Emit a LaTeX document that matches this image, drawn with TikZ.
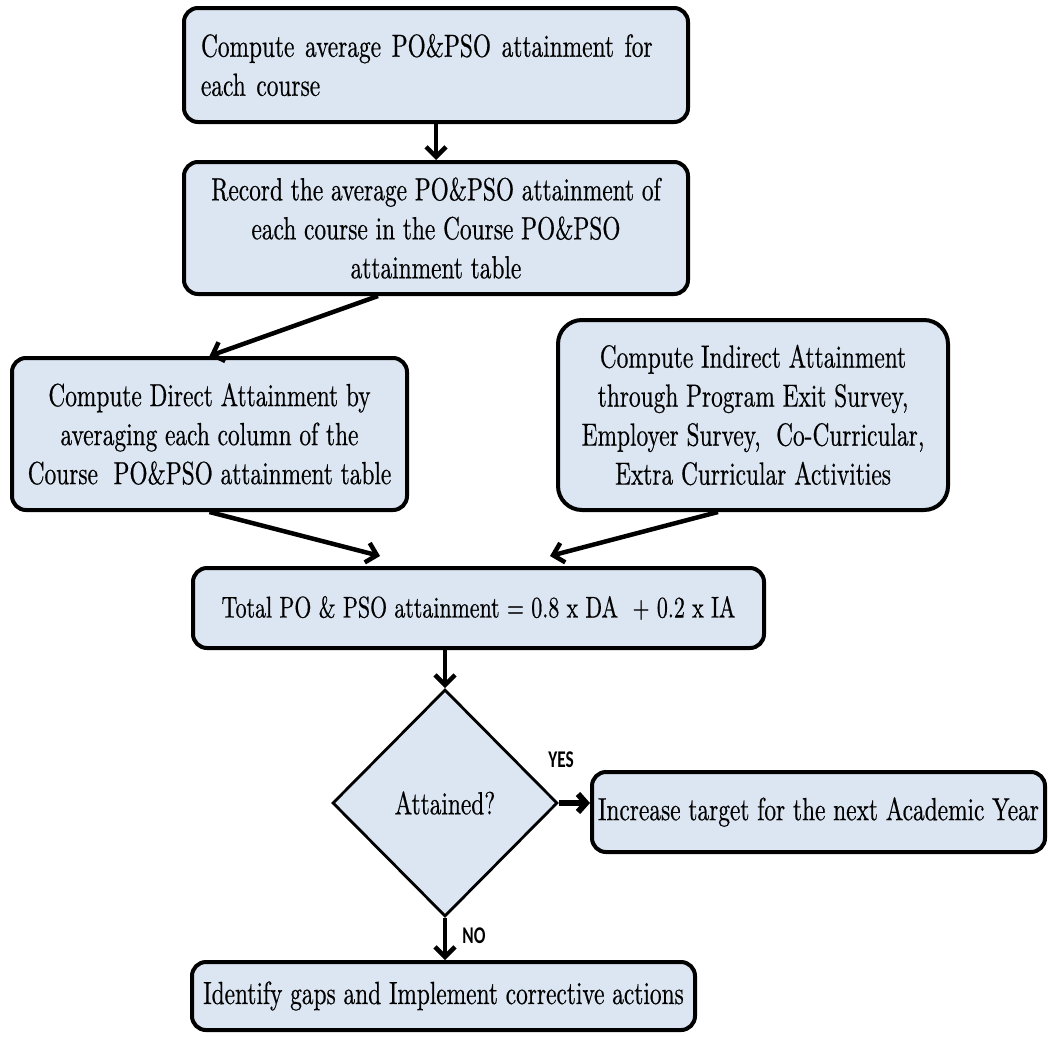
\documentclass[tikz,border=0pt]{standalone}
\usepackage{fontspec}
\setmainfont{lmroman10-regular.otf}[FakeStretch=0.73,FakeBold=0.5]
\newfontfamily\lblfont{Carlito}[FakeStretch=0.72]
\usetikzlibrary{shapes.geometric,arrows.meta,calc}
\definecolor{boxfill}{HTML}{DCE6F2}
\tikzset{
  box/.style={draw=black, line width=4pt, fill=boxfill, rounded corners=14pt,
    inner sep=0pt, align=center, font=\fontsize{32}{39}\selectfont},
  decision/.style={draw=black, line width=2.8pt, fill=boxfill, diamond, inner sep=0pt,
    font=\fontsize{32}{39}\selectfont},
  arr/.style={line width=4.5pt, -{Straight Barb[length=10pt,width=20pt]}},
  bigarr/.style={line width=6pt, -{Straight Barb[length=8pt,width=18pt]}},
  lbl/.style={font=\lblfont\bfseries\fontsize{24}{26}\selectfont, inner sep=0pt}
}
\begin{document}
\begin{tikzpicture}[x=1pt,y=-1pt]
\useasboundingbox (0,0) rectangle (1048,1036);

\node[box, minimum width=504pt, minimum height=114pt, text width=470pt, align=left] (b1) at (436,65)
  {Compute average PO\&PSO attainment for\\each course};
\node[box, minimum width=504pt, minimum height=132pt] (b2) at (436,228)
  {Record the average PO\&PSO attainment of\\each course in the Course PO\&PSO\\attainment table};
\node[box, minimum width=395pt, minimum height=152pt] (b3) at (209.5,434)
  {Compute Direct Attainment by\\averaging each column of the\\Course\ \ PO\&PSO attainment table};
\node[box, rounded corners=24pt, minimum width=390pt, minimum height=190pt] (b4) at (753,415)
  {Compute Indirect Attainment\\through Program Exit Survey,\\Employer Survey,\ \ Co-Curricular,\\Extra Curricular Activities};
\node[box, minimum width=571pt, minimum height=80pt, font=\fontsize{30}{36}\selectfont] (tot) at (478.5,608)
  {Total PO \& PSO attainment = 0.8 x DA\ \ + 0.2 x IA};
\node[decision, minimum width=225pt, minimum height=227pt] (dia) at (445,803) {Attained?};
\node[box, minimum width=453pt, minimum height=80pt] (inc) at (818.5,812)
  {Increase target for the next Academic Year};
\node[box, minimum width=503pt, minimum height=68pt] (ident) at (443.5,996)
  {Identify gaps and Implement corrective actions};

\node[lbl] (yes) at (561,760) {YES};
\node[lbl] (no) at (474,936) {NO};

\draw[arr] (b1.south) -- (b2.north);
\draw[arr] ([xshift=-58pt]b2.south) -- (b3.north);
\draw[arr] (b3.south) -- ([xshift=-98.5pt,yshift=10pt]tot.north);
\draw[arr] ([xshift=-35pt]b4.south) -- ([xshift=71.5pt,yshift=10pt]tot.north);
\draw[arr] ([xshift=-33.5pt]tot.south) -- (dia.north);
\draw[bigarr] (dia.east) -- (dia.east -| inc.west);
\draw[arr] (dia.south) -- (dia.south |- ident.north);
\end{tikzpicture}
\end{document}
